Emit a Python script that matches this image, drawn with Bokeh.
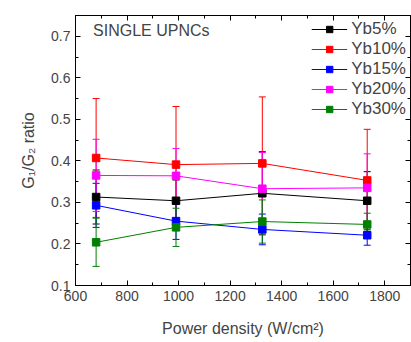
from bokeh.plotting import figure
from bokeh.models import (ColumnDataSource, Whisker, LinearAxis, Legend, LegendItem,
                          Label, Range1d, SingleIntervalTicker, CustomJSTickFormatter)
from bokeh.embed import file_html
from bokeh.resources import INLINE

power = [680, 990, 1325, 1732]
names = ["Yb5%", "Yb10%", "Yb15%", "Yb20%", "Yb30%"]
colors = ["#000000", "#ff0000", "#0000ff", "#ff00ff", "#008000"]
yb5 = [0.313, 0.304, 0.322, 0.304]
yb10 = [0.407, 0.391, 0.394, 0.353]
yb15 = [0.293, 0.255, 0.235, 0.221]
yb20 = [0.365, 0.364, 0.333, 0.335]
yb30 = [0.204, 0.240, 0.254, 0.247]
err5 = [0.065, 0.05, 0.10, 0.07]
err10 = [0.143, 0.140, 0.160, 0.123]
err15 = [0.053, 0.044, 0.037, 0.024]
err20 = [0.087, 0.066, 0.087, 0.082]
err30 = [0.058, 0.046, 0.052, 0.027]
series = [yb5, yb10, yb15, yb20, yb30]
errors = [err5, err10, err15, err20, err30]

FONT = "Liberation Sans"
p = figure(width=411, height=342, output_backend="svg", toolbar_location=None,
           x_range=Range1d(600, 1900), y_range=Range1d(0.1, 0.75),
           min_border_left=75, min_border_right=1, min_border_top=15, min_border_bottom=57)
p.xgrid.visible = False
p.ygrid.visible = False
p.outline_line_color = "black"
p.outline_line_width = 1

items = []
for name, col, ys, es in zip(names, colors, series, errors):
    src = ColumnDataSource(dict(x=power, y=ys,
                                lo=[a - b for a, b in zip(ys, es)],
                                hi=[a + b for a, b in zip(ys, es)]))
    w = Whisker(source=src, base="x", lower="lo", upper="hi", line_color=col, line_width=1)
    w.upper_head.line_color = col
    w.lower_head.line_color = col
    w.upper_head.size = 7
    w.lower_head.size = 7
    p.add_layout(w)
    r1 = p.line("x", "y", source=src, line_color=col, line_width=1)
    r2 = p.scatter("x", "y", source=src, marker="square", size=7.5, fill_color=col, line_color=col)
    items.append(LegendItem(label=name, renderers=[r1, r2]))

legend = Legend(items=items, location="top_right", border_line_color=None,
                background_fill_alpha=0, label_text_font=FONT, label_text_font_size="17px",
                glyph_width=36, glyph_height=16, spacing=0, padding=2, margin=4, label_standoff=4,
                label_height=16)
p.add_layout(legend)

for ax in (p.xaxis[0], p.yaxis[0]):
    ax.major_tick_in = 5
    ax.major_tick_out = 0
    ax.minor_tick_in = 3
    ax.minor_tick_out = 0
    ax.major_label_text_font = FONT
    ax.major_label_text_font_size = "14px"
    ax.axis_label_text_font = FONT
    ax.axis_label_text_font_size = "16px"
    ax.axis_label_text_font_style = "normal"
    ax.axis_line_color = "black"

p.xaxis[0].ticker = SingleIntervalTicker(interval=200, num_minor_ticks=2)
p.yaxis[0].ticker = SingleIntervalTicker(interval=0.1, num_minor_ticks=2)
p.xaxis[0].axis_label = "Power density (W/cm²)"
p.yaxis[0].axis_label = "G₁/G₂ ratio"
p.xaxis[0].axis_label_standoff = 16
p.yaxis[0].axis_label_standoff = 11

blank = CustomJSTickFormatter(code="return ''")
top = LinearAxis(ticker=SingleIntervalTicker(interval=200, num_minor_ticks=2),
                 formatter=blank, major_label_standoff=0, major_tick_in=5, major_tick_out=0,
                 minor_tick_in=3, minor_tick_out=0)
right = LinearAxis(ticker=SingleIntervalTicker(interval=0.1, num_minor_ticks=2),
                   formatter=CustomJSTickFormatter(code="return ''"), major_label_standoff=0,
                   major_tick_in=5, major_tick_out=0, minor_tick_in=3, minor_tick_out=0)
p.add_layout(top, "above")
p.add_layout(right, "right")

p.add_layout(Label(x=668, y=0.735, text="SINGLE UPNCs", text_font=FONT,
                   text_font_size="16px", text_baseline="top"))

open("out.html", "w").write(file_html(p, INLINE))
